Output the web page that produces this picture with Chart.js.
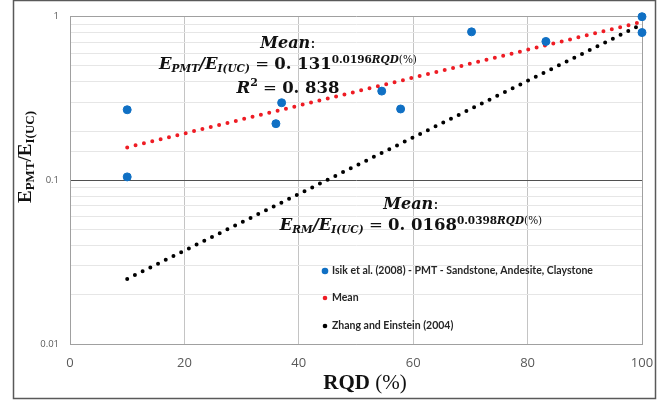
<!DOCTYPE html>
<html lang="en">
<head>
    <meta charset="UTF-8">
    <title>EPMT / EI(UC) vs RQD</title>
    <script src="https://cdn.jsdelivr.net/npm/chart.js"></script>
    <style>
        body { margin: 0; background: #fff; }
        #wrap { position: relative; width: 668px; height: 401px; }
    </style>
</head>
<body>
    <div id="wrap"><canvas id="chart" width="668" height="401"></canvas></div>
    <script>
        // values
        const isikRQD = [10, 10, 36, 37, 54.5, 57.8, 70.2, 83.2, 100, 100];
        const isikRatio = [0.270, 0.105, 0.222, 0.298, 0.351, 0.273, 0.808, 0.706, 1.0, 0.80];
        const meanRQD = [10, 100];
        const meanRatio = [0.159, 0.93];
        const zhangRQD = [10, 100];
        const zhangRatio = [0.025, 0.899];
        const xTicks = [0, 20, 40, 60, 80, 100];
        const yLabels = ['0.01', '0.1', '1'];
        const seriesNames = [
            'Isik et al. (2008) - PMT - Sandstone, Andesite, Claystone',
            'Mean',
            'Zhang and Einstein (2004)'
        ];

        const BLUE = '#1070c4', RED = '#ee1c24', BLACK = '#000';
        const SERIF = '"Liberation Serif", "DejaVu Serif", serif';
        const MATH = '"DejaVu Serif", serif';

        function pts(xs, ys) { return xs.map((x, i) => ({ x: x, y: ys[i] })); }

        function isDecade(v) {
            const l = Math.log10(v);
            return Math.abs(l - Math.round(l)) < 1e-6;
        }

        // draws a list of text runs centred on cx
        function drawRuns(ctx, runs, cx, y) {
            let total = 0;
            runs.forEach(r => { ctx.font = r.f; total += ctx.measureText(r.t).width; });
            let x = cx - total / 2;
            runs.forEach(r => {
                ctx.font = r.f;
                ctx.fillText(r.t, x, y + (r.dy || 0));
                x += ctx.measureText(r.t).width;
            });
        }

        const frame = {
            id: 'frame',
            afterDraw(chart) {
                const ctx = chart.ctx;
                ctx.save();
                ctx.strokeStyle = '#595959';
                ctx.lineWidth = 1.5;
                ctx.strokeRect(13.5, 0.5, 642, 398);
                ctx.restore();
            }
        };

        const notes = {
            id: 'notes',
            afterDatasetsDraw(chart) {
                const ctx = chart.ctx;
                ctx.save();
                ctx.fillStyle = '#111';
                ctx.textBaseline = 'alphabetic';
                const bi = s => 'bold italic ' + s + 'px ' + MATH;
                const b = s => 'bold ' + s + 'px ' + MATH;
                const r = s => s + 'px ' + MATH;

                // upper (Mean) equation
                drawRuns(ctx, [{ t: 'Mean', f: bi(16) }, { t: ':', f: r(16) }], 288, 48);
                drawRuns(ctx, [
                    { t: 'E', f: bi(16.5) }, { t: 'PMT', f: bi(10.5), dy: 3 },
                    { t: '/', f: bi(16.5) },
                    { t: 'E', f: bi(16.5) }, { t: 'I(UC)', f: bi(10.5), dy: 3 },
                    { t: ' = ', f: r(16.5) }, { t: '0. 131', f: b(16.5) },
                    { t: '0.0196', f: b(10.5), dy: -6 }, { t: 'RQD', f: bi(10.5), dy: -6 },
                    { t: '(%)', f: r(10.5), dy: -6 }
                ], 288, 69);
                drawRuns(ctx, [
                    { t: 'R', f: bi(16.5) }, { t: '2', f: b(11), dy: -7 },
                    { t: ' = ', f: r(16.5) }, { t: '0. 838', f: b(16.5) }
                ], 288, 93);

                // lower (Zhang and Einstein) equation
                drawRuns(ctx, [{ t: 'Mean', f: bi(16) }, { t: ':', f: r(16) }], 411, 209);
                drawRuns(ctx, [
                    { t: 'E', f: bi(16.5) }, { t: 'RM', f: bi(10.5), dy: 3 },
                    { t: '/', f: bi(16.5) },
                    { t: 'E', f: bi(16.5) }, { t: 'I(UC)', f: bi(10.5), dy: 3 },
                    { t: ' = ', f: r(16.5) }, { t: '0. 0168', f: b(16.5) },
                    { t: '0.0398', f: b(10.5), dy: -6 }, { t: 'RQD', f: bi(10.5), dy: -6 },
                    { t: '(%)', f: r(10.5), dy: -6 }
                ], 411, 230);

                // axis titles
                const sb = s => 'bold ' + s + 'px ' + SERIF;
                drawRuns(ctx, [{ t: 'RQD', f: sb(21) }, { t: ' (%)', f: 21 + 'px ' + SERIF }], 365, 389);
                ctx.translate(31, 157);
                ctx.rotate(-Math.PI / 2);
                drawRuns(ctx, [
                    { t: 'E', f: sb(19) }, { t: 'PMT', f: sb(13), dy: 3 },
                    { t: '/', f: sb(19) },
                    { t: 'E', f: sb(19) }, { t: 'I(UC)', f: sb(13), dy: 3 }
                ], 0, 0);
                ctx.restore();

                // legend inside the plot
                ctx.save();
                ctx.textBaseline = 'middle';
                ctx.font = 'bold 10.5px Lato, "Open Sans", sans-serif';
                const rows = [271, 298, 326];
                chart.data.datasets.forEach((ds, i) => {
                    ctx.fillStyle = ds.legendColor;
                    ctx.beginPath();
                    ctx.arc(325, rows[i], ds.legendRadius, 0, Math.PI * 2);
                    ctx.fill();
                    ctx.fillStyle = '#262626';
                    ctx.fillText(ds.label, 332, rows[i]);
                });
                ctx.restore();
            }
        };

        new Chart(document.getElementById('chart'), {
            type: 'scatter',
            data: {
                datasets: [
                    {
                        label: seriesNames[0],
                        data: pts(isikRQD, isikRatio),
                        backgroundColor: BLUE,
                        borderColor: BLUE,
                        pointRadius: 4,
                        clip: false,
                        legendColor: BLUE,
                        legendRadius: 3.3
                    },
                    {
                        label: seriesNames[1],
                        data: pts(meanRQD, meanRatio),
                        showLine: true,
                        borderColor: RED,
                        borderWidth: 4,
                        borderDash: [0, 8.6],
                        borderCapStyle: 'round',
                        pointRadius: 0,
                        legendColor: RED,
                        legendRadius: 2.3
                    },
                    {
                        label: seriesNames[2],
                        data: pts(zhangRQD, zhangRatio),
                        showLine: true,
                        borderColor: BLACK,
                        borderWidth: 4,
                        borderDash: [0, 8.6],
                        borderCapStyle: 'round',
                        pointRadius: 0,
                        legendColor: BLACK,
                        legendRadius: 2.3
                    }
                ]
            },
            options: {
                responsive: false,
                animation: false,
                layout: { padding: { top: 14, right: 26, left: 0, bottom: 0 } },
                plugins: { legend: { display: false }, tooltip: { enabled: false } },
                scales: {
                    x: {
                        type: 'linear',
                        min: 0,
                        max: 100,
                        afterFit: s => { s.height = 57; },
                        afterBuildTicks: s => { s.ticks = xTicks.map(v => ({ value: v })); },
                        ticks: { padding: 11, color: '#595959', font: { family: '"Open Sans"', size: 13 } },
                        grid: {
                            drawTicks: false,
                            color: c => (c.tick && c.tick.value === 100) ? '#a0a0a0' : '#c4c4c4'
                        },
                        border: { color: '#a0a0a0' }
                    },
                    y: {
                        type: 'logarithmic',
                        min: 0.01,
                        max: 1,
                        afterFit: s => { s.width = 70; },
                        ticks: {
                            autoSkip: false,
                            padding: 11,
                            color: '#595959',
                            font: { family: '"Open Sans"', size: 9.5 },
                            callback: v => isDecade(v) ? yLabels[Math.round(Math.log10(v)) + 2] : ''
                        },
                        grid: {
                            drawTicks: false,
                            color: c => {
                                const v = c.tick ? c.tick.value : 0;
                                if (Math.abs(v - 0.1) < 1e-9) return '#505050';
                                if (Math.abs(v - 1) < 1e-9 || Math.abs(v - 0.01) < 1e-9) return '#a0a0a0';
                                return '#e6e6e6';
                            }
                        },
                        border: { color: '#a0a0a0' }
                    }
                }
            },
            plugins: [frame, notes]
        });
    </script>
</body>
</html>
